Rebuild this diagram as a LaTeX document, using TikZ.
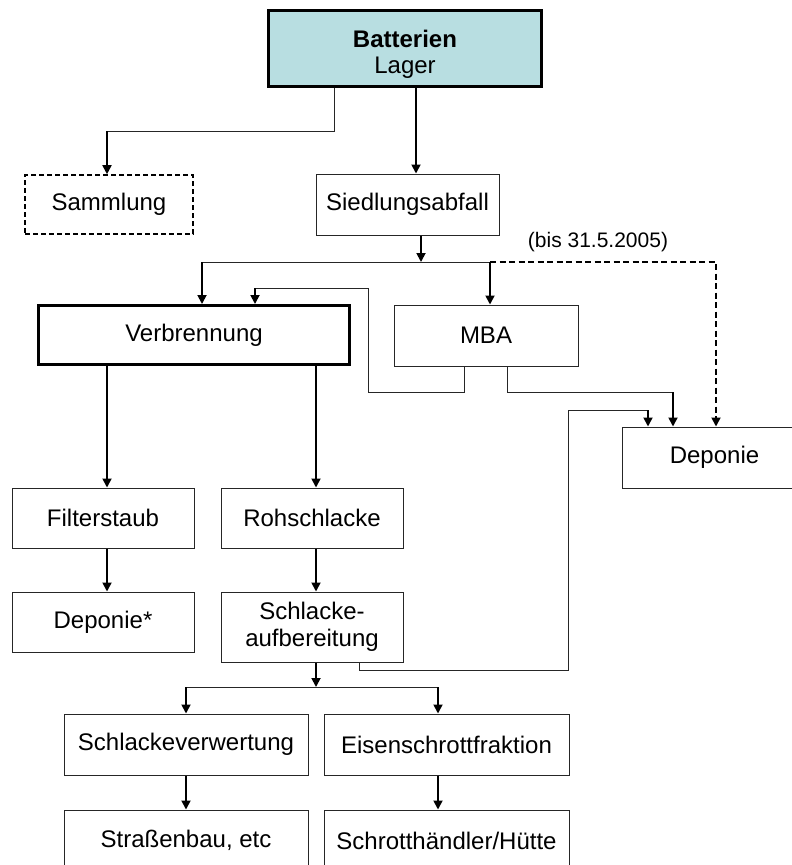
\documentclass[tikz,border=0pt]{standalone}
\usepackage{fontspec}
\setmainfont{Liberation Sans}
\usetikzlibrary{arrows.meta}
\definecolor{batfill}{RGB}{184,222,225}
\begin{document}
\begin{tikzpicture}[x=1pt,y=-1pt,
  box/.style={draw=black!85, line width=1pt, fill=white, inner sep=0pt, align=center,
    font=\fontsize{24}{27}\selectfont},
  thickbox/.style={box, draw=black, line width=3pt},
  dashbox/.style={box, draw=black, line width=1.6pt, dash pattern=on 5pt off 3pt},
  ln/.style={draw=black!85, line width=1pt},
  ar/.style={draw=black, line width=1.8pt, -{Triangle[length=9pt,width=9pt]}},
  dar/.style={ar, dash pattern=on 6pt off 3.5pt},
  lbl/.style={font=\fontsize{21}{24}\selectfont, inner sep=0pt}]
\clip (0,0) rectangle (792,865);
\fill[white] (0,0) rectangle (792,865);

% nodes
\node[thickbox, fill=batfill, minimum width=273pt, minimum height=76pt] (bat) at (405,48.5)
  {\rule{0pt}{28pt}\textbf{Batterien}\\[-1pt]Lager};
\node[dashbox, minimum width=168pt, minimum height=59pt] (sam) at (109,204.5) {Sammlung};
\node[box, minimum width=183pt, minimum height=61pt] (sied) at (407.5,204.5) {Siedlungsabfall};
\node[thickbox, minimum width=311pt, minimum height=59pt] (verb) at (194,335) {Verbrennung};
\node[box, minimum width=184pt, minimum height=61pt] (mba) at (486,335.5) {MBA};
\node[box, minimum width=185pt, minimum height=61pt] (dep) at (714.5,457.5) {Deponie};
\node[box, minimum width=182pt, minimum height=60pt] (filt) at (103,518) {Filterstaub};
\node[box, minimum width=182pt, minimum height=60pt] (roh) at (312,518) {Rohschlacke};
\node[box, minimum width=182pt, minimum height=60pt] (depst) at (103,622) {Deponie*};
\node[box, minimum width=182pt, minimum height=70pt] (schl) at (312,627) {Schlacke-\\aufbereitung};
\node[box, minimum width=244pt, minimum height=61pt] (sv) at (186,744.5) {Schlackeverwertung};
\node[box, minimum width=245pt, minimum height=61pt] (es) at (446.5,744.5) {Eisenschrottfraktion};
\node[box, minimum width=244pt, minimum height=61pt] (str) at (186,840.5) {Straßenbau, etc};
\node[box, minimum width=245pt, minimum height=61pt] (sch) at (446.5,840.5) {Schrotthändler/Hütte};
\node[lbl] (bis) at (598,242) {(bis 31.5.2005)};

% junction coordinates
\coordinate (jS) at (107,131);
\coordinate (jA) at (202,262);
\coordinate (jB) at (490,262);
\coordinate (jC) at (716,262);
\coordinate (jD) at (421,262);
\coordinate (m1) at (464,392);
\coordinate (m2) at (368,392);
\coordinate (m3) at (368,288);
\coordinate (m4) at (255,288);
\coordinate (n1) at (507,392);
\coordinate (n2) at (673,392);
\coordinate (s1) at (359,670);
\coordinate (s2) at (568,670);
\coordinate (s3) at (568,410);
\coordinate (s4) at (648,410);
\coordinate (k0) at (316,687);
\coordinate (k1) at (186,687);
\coordinate (k2) at (438,687);

% Batterien
\draw[ln] ([xshift=-71pt]bat.south) |- (jS);
\draw[ar] (jS) -- (jS |- sam.north);
\draw[ar] ([xshift=11pt]bat.south) -- ([xshift=11pt]bat.south |- sied.north);

% Siedlungsabfall
\draw[ar] ([xshift=13.5pt]sied.south) -- (jD);
\draw[ln] (jA) -- (jB);
\draw[ar] (jA) -- (jA |- verb.north);
\draw[ar] (jB) -- (jB |- mba.north);
\draw[dar] (jB) -- (jC) -- (jC |- dep.north);

% MBA
\draw[ln] (m1 |- mba.south) -- (m1) -- (m2) -- (m3) -- (m4);
\draw[ar] (m4) -- (m4 |- verb.north);
\draw[ln] (n1 |- mba.south) -- (n1) -- (n2);
\draw[ar] (n2) -- (n2 |- dep.north);

% Verbrennung
\draw[ar] ([xshift=4pt]verb.south -| filt.north) -- ([xshift=4pt]filt.north);
\draw[ar] ([xshift=4pt]verb.south -| roh.north) -- ([xshift=4pt]roh.north);
\draw[ar] ([xshift=4pt]filt.south) -- ([xshift=4pt]depst.north);
\draw[ar] ([xshift=4pt]roh.south) -- ([xshift=4pt]schl.north);

% Schlackeaufbereitung
\draw[ln] (s1 |- schl.south) -- (s1) -- (s2) -- (s3) -- (s4);
\draw[ar] (s4) -- (s4 |- dep.north);
\draw[ar] (k0 |- schl.south) -- (k0);
\draw[ln] (k1) -- (k2);
\draw[ar] (k1) -- (k1 |- sv.north);
\draw[ar] (k2) -- (k2 |- es.north);
\draw[ar] (sv.south) -- (str.north);
\draw[ar] ([xshift=-8.5pt]es.south) -- ([xshift=-8.5pt]sch.north);
\end{tikzpicture}
\end{document}
